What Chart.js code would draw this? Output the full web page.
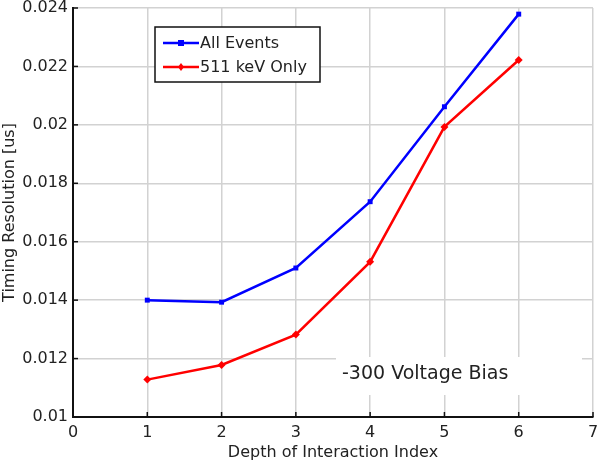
<!DOCTYPE html>
<html>
<head>
<meta charset="utf-8">
<script src="https://cdn.jsdelivr.net/npm/chart.js@4/dist/chart.umd.min.js"></script>
<style>
html,body{margin:0;padding:0;background:#fff;}
#wrap{width:600px;height:463px;}
</style>
</head>
<body>
<div id="wrap"><canvas id="c" width="600" height="463"></canvas></div>
<script>
// ---- data ----
const depthIndex = [1, 2, 3, 4, 5, 6];
const allEvents = [0.01400, 0.01393, 0.01510, 0.01737, 0.02062, 0.02379];
const only511 = [0.01128, 0.01178, 0.01282, 0.01531, 0.01993, 0.02222];
const seriesNames = ['All Events', '511 keV Only'];
const yTickLabels = ['0.01', '0.012', '0.014', '0.016', '0.018', '0.02', '0.022', '0.024'];
const xTickLabels = ['0', '1', '2', '3', '4', '5', '6', '7'];
const annotationText = '-300 Voltage Bias';
const xTitle = 'Depth of Interaction Index';
const yTitle = 'Timing Resolution [us]';

const FONT = '"DejaVu Sans", sans-serif';
const TXT = '#222';

const overlay = {
  id: 'overlay',
  afterDatasetsDraw(chart) {
    const ctx = chart.ctx;
    const ca = chart.chartArea;
    const xs = chart.scales.x, ys = chart.scales.y;
    ctx.save();
    // inward ticks on left and bottom axes
    ctx.strokeStyle = '#111';
    ctx.lineWidth = 1.5;
    xs.ticks.forEach(t => {
      const px = xs.getPixelForValue(t.value);
      ctx.beginPath(); ctx.moveTo(px, ca.bottom); ctx.lineTo(px, ca.bottom - 5); ctx.stroke();
    });
    ys.ticks.forEach(t => {
      const py = ys.getPixelForValue(t.value);
      ctx.beginPath(); ctx.moveTo(ca.left, py); ctx.lineTo(ca.left + 5, py); ctx.stroke();
    });
    // legend box
    const lx = 155, ly = 27, lw = 165, lh = 55;
    ctx.fillStyle = '#fff';
    ctx.fillRect(lx, ly, lw, lh);
    ctx.strokeStyle = '#111';
    ctx.lineWidth = 1.5;
    ctx.strokeRect(lx, ly, lw, lh);
    const rows = [43, 67];
    chart.data.datasets.forEach((ds, i) => {
      const y = rows[i];
      ctx.strokeStyle = ds.borderColor;
      ctx.lineWidth = 2.5;
      ctx.beginPath(); ctx.moveTo(163, y); ctx.lineTo(199, y); ctx.stroke();
      ctx.fillStyle = ds.borderColor;
      if (ds.pointStyle === 'rect') {
        ctx.fillRect(181 - 3, y - 3, 6, 6);
      } else {
        ctx.beginPath();
        ctx.moveTo(181, y - 4); ctx.lineTo(184, y); ctx.lineTo(181, y + 4); ctx.lineTo(178, y);
        ctx.closePath(); ctx.fill();
      }
      ctx.fillStyle = TXT;
      ctx.font = '16px ' + FONT;
      ctx.textBaseline = 'middle';
      ctx.textAlign = 'left';
      ctx.fillText(ds.label, 200, y + 1);
    });
    // annotation
    ctx.fillStyle = '#fff';
    ctx.fillRect(336, 357, 246, 38);
    ctx.fillStyle = TXT;
    ctx.font = '19px ' + FONT;
    ctx.textBaseline = 'middle';
    ctx.textAlign = 'left';
    ctx.fillText(annotationText, 342, 374);
    ctx.restore();
  }
};

const toPts = (vals) => vals.map((v, i) => ({x: depthIndex[i], y: v}));

new Chart(document.getElementById('c'), {
  type: 'line',
  data: {
    datasets: [
      {
        label: seriesNames[0],
        data: toPts(allEvents),
        borderColor: '#0000ff',
        backgroundColor: '#0000ff',
        borderWidth: 2.5,
        pointStyle: 'rect',
        pointRadius: 3.5,
        pointBorderWidth: 0,
        tension: 0
      },
      {
        label: seriesNames[1],
        data: toPts(only511),
        borderColor: '#ff0000',
        backgroundColor: '#ff0000',
        borderWidth: 2.5,
        pointStyle: 'rectRot',
        pointRadius: 4,
        pointBorderWidth: 0,
        tension: 0
      }
    ]
  },
  options: {
    responsive: false,
    animation: false,
    devicePixelRatio: 1,
    layout: {padding: {top: 8, right: 7, left: 0, bottom: 0}},
    plugins: {legend: {display: false}, tooltip: {enabled: false}},
    scales: {
      x: {
        type: 'linear',
        min: 0, max: 7,
        ticks: {
          stepSize: 1,
          color: TXT,
          font: {family: FONT, size: 16},
          padding: 6,
          maxRotation: 0,
          callback: (v, i) => xTickLabels[i]
        },
        grid: {color: '#d2d2d2', lineWidth: 1.5, drawTicks: false},
        border: {color: '#111', width: 2},
        title: {display: true, text: xTitle, color: TXT, font: {family: FONT, size: 16}, padding: {top: 0, bottom: 1}},
        afterFit(s) { s.height = 46; s.paddingLeft = 0; s.paddingRight = 0; }
      },
      y: {
        type: 'linear',
        min: 0.01, max: 0.024,
        ticks: {
          stepSize: 0.002,
          color: TXT,
          font: {family: FONT, size: 16},
          padding: 5,
          callback: (v, i) => yTickLabels[i]
        },
        grid: {color: '#d2d2d2', lineWidth: 1.5, drawTicks: false},
        border: {color: '#111', width: 2},
        title: {display: true, text: yTitle, color: TXT, font: {family: FONT, size: 16}, padding: {top: 0, bottom: 0}},
        afterFit(s) { s.width = 73; s.paddingTop = 0; s.paddingBottom = 0; }
      }
    }
  },
  plugins: [overlay]
});
</script>
</body>
</html>
